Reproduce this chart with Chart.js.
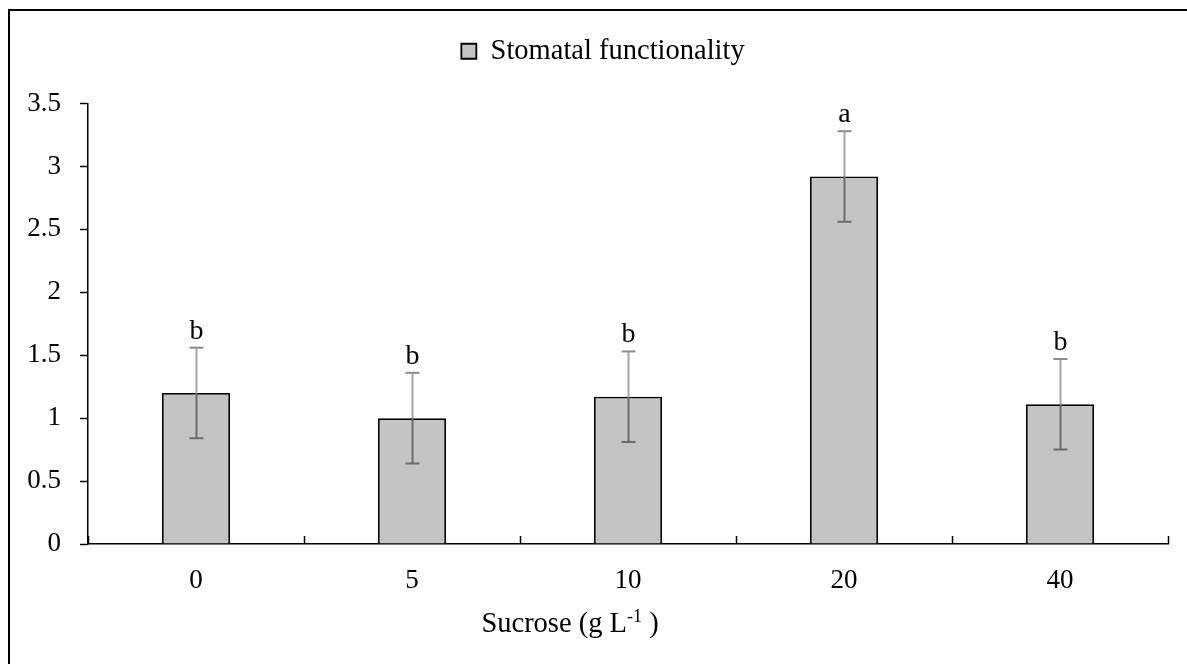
<!DOCTYPE html>
<html>
<head>
<meta charset="utf-8">
<script src="https://cdn.jsdelivr.net/npm/chart.js@4/dist/chart.umd.min.js"></script>
<style>
  html, body { margin: 0; padding: 0; background: #fff; }
  #wrap { width: 1187px; height: 664px; position: relative; }
</style>
</head>
<body>
<div id="wrap"><canvas id="chart"></canvas></div>
<script>
// sucrose levels (g/L) and stomatal functionality means, SE and letters
var sucrose = ['0', '5', '10', '20', '40'];
var functionality = [1.2, 1.0, 1.17, 2.92, 1.11];
var stdErr = [0.36, 0.36, 0.36, 0.36, 0.36];
var letters = ['b', 'b', 'b', 'a', 'b'];
var yTicks = [0, 0.5, 1, 1.5, 2, 2.5, 3, 3.5];

var serif = "'Times New Roman', 'Liberation Serif', serif";

// outer frame of the figure
var framePlugin = {
  id: 'frame',
  beforeDraw: function (chart) {
    var ctx = chart.ctx;
    ctx.save();
    ctx.fillStyle = '#fff';
    ctx.fillRect(0, 0, chart.width, chart.height);
    ctx.strokeStyle = '#000';
    ctx.lineWidth = 2;
    ctx.strokeRect(9, 10, chart.width + 20, chart.height + 20);
    ctx.restore();
  }
};

// legend: more room below it and nudged a bit right
var legendTweak = {
  id: 'legendTweak',
  afterInit: function (chart) {
    var lg = chart.legend;
    var fit = lg.fit, draw = lg.draw;
    lg.fit = function () {
      fit.call(this);
      this.height += 28;
    };
    lg.draw = function () {
      var ctx = this.ctx;
      ctx.save();
      ctx.translate(9, 0);
      draw.apply(this, arguments);
      ctx.restore();
    };
  }
};

// error bars, significance letters, inward x ticks and the x title
var extras = {
  id: 'extras',
  afterDatasetsDraw: function (chart) {
    var ctx = chart.ctx;
    var x = chart.scales.x, y = chart.scales.y;
    var area = chart.chartArea;
    ctx.save();

    // ticks at category boundaries, pointing up
    ctx.strokeStyle = '#000';
    ctx.lineWidth = 1.5;
    for (var b = 0; b <= sucrose.length; b++) {
      var bx = Math.round(x.getPixelForValue(b - 0.5)) + 0.5;
      ctx.beginPath();
      ctx.moveTo(bx, area.bottom);
      ctx.lineTo(bx, area.bottom - 8);
      ctx.stroke();
    }

    for (var i = 0; i < functionality.length; i++) {
      var cx = Math.round(x.getPixelForValue(i)) + 0.5;
      var yv = y.getPixelForValue(functionality[i]);
      var yt = y.getPixelForValue(functionality[i] + stdErr[i]);
      var yb = y.getPixelForValue(functionality[i] - stdErr[i]);
      ctx.lineWidth = 2;
      // part above the bar
      ctx.strokeStyle = '#a6a6a6';
      ctx.beginPath();
      ctx.moveTo(cx, yt);
      ctx.lineTo(cx, yv);
      ctx.stroke();
      ctx.strokeStyle = '#8c8c8c';
      ctx.beginPath();
      ctx.moveTo(cx - 7, yt);
      ctx.lineTo(cx + 7, yt);
      ctx.stroke();
      // part inside the bar
      ctx.strokeStyle = '#6b6b6b';
      ctx.beginPath();
      ctx.moveTo(cx, yv);
      ctx.lineTo(cx, yb);
      ctx.moveTo(cx - 7, yb);
      ctx.lineTo(cx + 7, yb);
      ctx.stroke();

      ctx.fillStyle = '#000';
      ctx.font = '28px ' + serif;
      ctx.textAlign = 'center';
      ctx.textBaseline = 'alphabetic';
      ctx.fillText(letters[i], cx, yt - 9);
    }

    // x axis title with superscript
    var base = 632;
    var mid = 570;
    ctx.fillStyle = '#000';
    ctx.textBaseline = 'alphabetic';
    ctx.textAlign = 'left';
    var p1 = 'Sucrose (g L', p3 = ' )';
    ctx.font = '18px ' + serif;
    var w2 = ctx.measureText('-1').width;
    ctx.font = '28.5px ' + serif;
    var w1 = ctx.measureText(p1).width, w3 = ctx.measureText(p3).width;
    var sx = mid - (w1 + w2 + w3) / 2;
    ctx.fillText(p1, sx, base);
    ctx.font = '18px ' + serif;
    ctx.fillText('-1', sx + w1, base - 10);
    ctx.font = '28.5px ' + serif;
    ctx.fillText(p3, sx + w1 + w2, base);
    ctx.restore();
  }
};

new Chart(document.getElementById('chart'), {
  type: 'bar',
  data: {
    labels: sucrose,
    datasets: [{
      label: 'Stomatal functionality',
      data: functionality,
      backgroundColor: '#c4c4c4',
      borderColor: '#000',
      borderWidth: 1.8,
      barPercentage: 0.315,
      categoryPercentage: 1
    }]
  },
  options: {
    responsive: true,
    maintainAspectRatio: false,
    animation: false,
    layout: { padding: { left: 20, right: 19, top: 27, bottom: 0 } },
    plugins: {
      tooltip: { enabled: false },
      legend: {
        position: 'top',
        labels: {
          boxWidth: 15,
          boxHeight: 15,
          padding: 10,
          color: '#000',
          font: { family: serif, size: 28.5 }
        }
      }
    },
    scales: {
      x: {
        grid: { display: false },
        border: { display: true, color: '#000', width: 1.5 },
        ticks: { color: '#000', padding: 13, font: { family: serif, size: 27 } },
        afterFit: function (s) { s.height = 120; }
      },
      y: {
        min: 0,
        max: 3.5,
        afterBuildTicks: function (s) {
          s.ticks = yTicks.map(function (v) { return { value: v }; });
        },
        grid: {
          drawOnChartArea: false,
          drawTicks: true,
          tickLength: 8,
          tickColor: '#000',
          tickWidth: 1.5
        },
        border: { display: true, color: '#000', width: 1.5 },
        ticks: {
          color: '#000',
          padding: 19,
          font: { family: serif, size: 27 },
          callback: function (v) { return String(v); }
        },
        afterFit: function (s) { s.width = 68; }
      }
    }
  },
  plugins: [framePlugin, legendTweak, extras]
});
</script>
</body>
</html>
